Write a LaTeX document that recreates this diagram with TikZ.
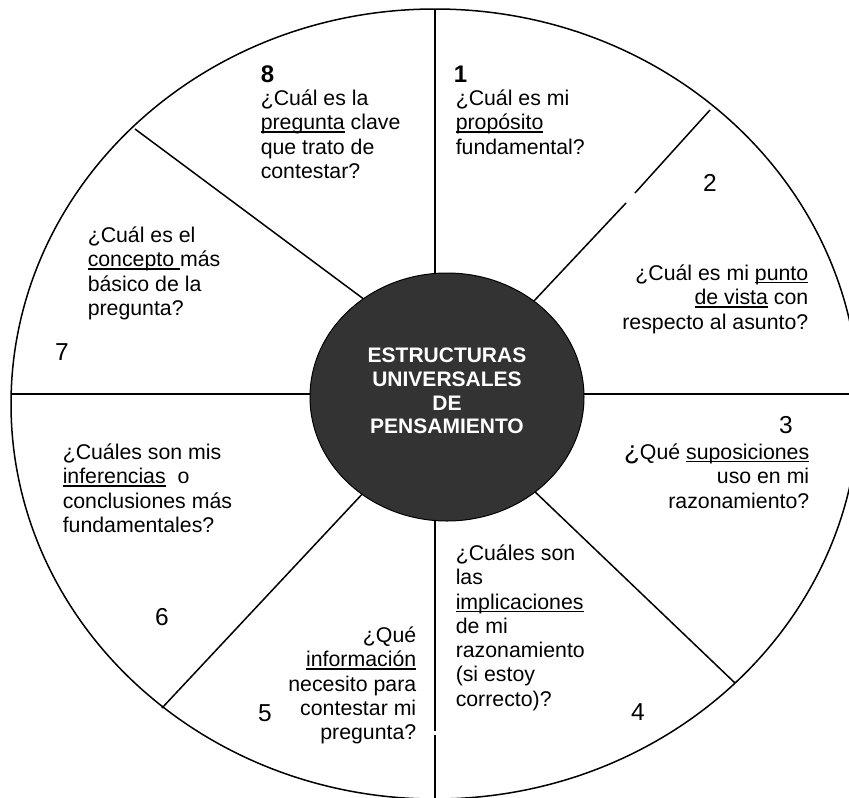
\documentclass[tikz,border=0pt]{standalone}
\usepackage{fontspec}
\setmainfont{Liberation Sans}
\definecolor{hubgray}{HTML}{333333}
\newcommand{\subr}[1]{\setbox0\hbox{#1}\rlap{\rule[-2.8pt]{\wd0}{1.3pt}}\box0\relax}

\begin{document}
\begin{tikzpicture}[x=1pt,y=-1pt,line width=1.5pt]
\tikzstyle{every node}=[inner sep=0pt,font=\fontsize{21.3}{24.3}\selectfont]
\tikzstyle{question}=[execute at begin node={\rule{0pt}{19pt}}]
\tikzstyle{qleft}=[question,anchor=north west,align=left]
\tikzstyle{qright}=[question,anchor=north east,align=right]
\tikzstyle{num}=[font=\fontsize{24.5}{24}\selectfont]
\tikzstyle{bnum}=[anchor=base west,font=\fontsize{24}{24}\selectfont\bfseries]

\useasboundingbox (0,0) rectangle (849,798);
\clip (0,0) rectangle (849,798);

% wheel and spokes
\draw (435,404) ellipse [x radius=424pt, y radius=395pt];
\draw (11,394) -- (860,394);
\draw (435,9) -- (435,731) (435,735) -- (435,800);
\draw (135,129) -- (365,300);
\draw (710,110) -- (635,193) (626,203) -- (533,302);
\draw (162,708) -- (366,490);
\draw (735,683) -- (531,488);

% hub
\filldraw[fill=hubgray,line width=1pt] (447,397) ellipse [x radius=137pt, y radius=124pt];
\node[align=center,text=white,font=\fontsize{21}{23.7}\selectfont\bfseries] (hub) at (447,391)
  {ESTRUCTURAS\\UNIVERSALES\\DE\\PENSAMIENTO};

% sectors
\node[bnum] (n8) at (260,82) {8};
\node[qleft] (q8) at (260,89) {¿Cuál es la\\\subr{pregunta} clave\\que trato de\\contestar?};
\node[bnum] (n1) at (453,82) {1};
\node[qleft] (q1) at (455,89) {¿Cuál es mi\\\subr{propósito}\\fundamental?};
\node[num] (n2) at (710,183) {2};
\node[qright] (q2) at (809,264) {¿Cuál es mi \subr{punto}\\\subr{de vista} con\\respecto al asunto?};
\node[num] (n3) at (786,425) {3};
\node[qright] (q3) at (810,443) {{\fontsize{26}{24}\selectfont ¿}Qué \subr{suposiciones}\\uso en mi\\razonamiento?};
\node[num] (n4) at (638,712) {4};
\node[qleft] (q4) at (455,544) {¿Cuáles son\\las\\\subr{implicaciones}\\de mi\\razonamiento\\(si estoy\\correcto)?};
\node[num] (n5) at (265,713) {5};
\node[qright] (q5) at (417,626) {¿Qué\\\subr{información}\\necesito para\\contestar mi\\pregunta?};
\node[num] (n6) at (162,617) {6};
\node[qleft] (q6) at (62,443) {¿Cuáles son mis\\\subr{inferencias}\ \ o\\conclusiones más\\fundamentales?};
\node[num] (n7) at (62,352) {7};
\node[qleft] (q7) at (87,226) {¿Cuál es el\\\subr{concepto\ }más\\básico de la\\pregunta?};
\end{tikzpicture}
\end{document}
